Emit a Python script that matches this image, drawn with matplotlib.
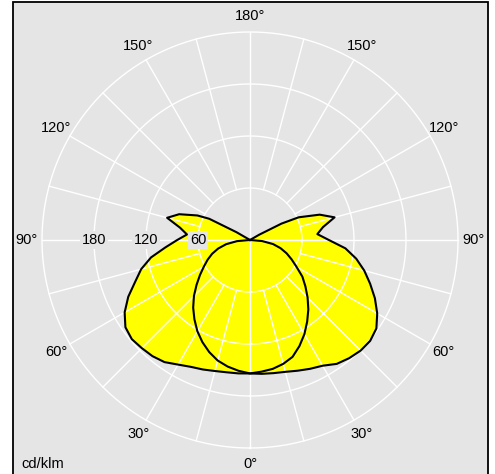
import numpy as np
import matplotlib
matplotlib.use('Agg')
import matplotlib.pyplot as plt
from matplotlib.patches import Rectangle

# ---- data (cd/klm vs gamma angle in degrees) ----
gamma_b = [0, 5, 10, 15, 20, 25, 30, 35, 40, 45, 50, 55, 60, 65, 70, 75, 80, 85,
           90, 95, 100, 105, 110, 115, 117.5, 120, 122.5, 130, 140, 150, 160, 170, 180]
left_b = [154, 154.5, 155, 156.5, 159, 161.5, 166, 172, 175, 176.5, 178, 175.5, 167,
          155, 141, 130, 116, 98, 84, 73, 82, 99, 87, 67, 53, 18, 0, 0, 0, 0, 0, 0, 0]
right_b = [154, 155, 156, 157.5, 160.5, 164, 167.5, 174.5, 178, 180.5, 181, 178, 169.5,
           159, 147.5, 136.5, 124.5, 110.5, 91, 78, 85.5, 101, 85.5, 62, 41, 12, 0, 0, 0, 0, 0, 0, 0]

gamma_c = [0, 5, 10, 15, 20, 25, 30, 35, 40, 45, 50, 55, 60, 65, 70, 75, 80, 85, 90]
left_c = [154, 151.5, 148.3, 144, 137.6, 130, 121.5, 111.8, 102, 91.5, 80.5, 70.5, 61.5,
          54, 46.5, 38, 28, 15, 0]
right_c = [154, 152.5, 151, 148, 143.5, 135, 125.5, 115, 104.7, 94, 83.5, 73.8, 62,
           53, 45, 36.5, 27, 14, 0]

ring_values = [60, 120, 180, 240]
ring_labels = ['60', '120', '180']
angle_labels = [0, 30, 60, 90, 120, 150, 180]
unit_label = 'cd/klm'

BG = '#e5e5e5'
FONT = ['Liberation Sans', 'DejaVu Sans']
FS = 10.5

fig = plt.figure(figsize=(4.95, 4.74), dpi=100)
fig.patch.set_facecolor('white')
fig.add_artist(Rectangle((13 / 495, -0.02), 475 / 495, 1 - 2 / 474 + 0.02,
                         transform=fig.transFigure, facecolor=BG,
                         edgecolor='black', lw=1.3, zorder=0))

ax = fig.add_axes([42 / 495, 26 / 474, 416 / 495, 416 / 474], projection='polar')
ax.set_theta_zero_location('S')
ax.set_theta_direction(1)
ax.set_ylim(0, 240)
ax.set_axis_off()

def sym(g, l, r):
    g = np.radians(np.asarray(g, float))
    th = np.concatenate([-g[::-1], g[1:]])
    rr = np.concatenate([np.asarray(l, float)[::-1], np.asarray(r, float)[1:]])
    return th, rr

thb, rb = sym(gamma_b, left_b, right_b)
thc, rc = sym(gamma_c, left_c, right_c)
ax.fill(thb, rb, color='#ffff00', zorder=1, lw=0)
ax.fill(thc, rc, color='#ffff00', zorder=1, lw=0)

# grid
tt = np.linspace(0, 2 * np.pi, 721)
for rv in ring_values:
    ax.plot(tt, np.full_like(tt, rv), color='white', lw=1.0, zorder=2, clip_on=False)
for a in range(0, 360, 15):
    r0 = 0 if a % 90 == 0 else ring_values[0]
    ax.plot([np.radians(a)] * 2, [r0, ring_values[-1]], color='white', lw=1.0,
            zorder=2, clip_on=False)

# outlines
ax.plot(thb, rb, color='black', lw=1.5, zorder=3, solid_joinstyle='round')
ax.plot(thc, rc, color='black', lw=1.5, zorder=3, solid_joinstyle='round')

# angle labels
for g in angle_labels:
    sides = [g] if g in (0, 180) else [g, -g]
    for s in sides:
        ax.text(np.radians(s), 258, f'{g}°', ha='center', va='center',
                family=FONT, fontsize=FS, clip_on=False, zorder=5)

# ring value labels
for rv, lab in zip(ring_values, ring_labels):
    ax.text(-np.pi / 2, rv, lab, ha='center', va='center', family=FONT, fontsize=FS,
            zorder=5, bbox=dict(boxstyle='square,pad=0.12', fc=BG, ec='none'))

fig.text(21 / 495, 1 - 464 / 474, unit_label, ha='left', va='center',
         family=FONT, fontsize=FS)

fig.savefig('out.png', dpi=100)
